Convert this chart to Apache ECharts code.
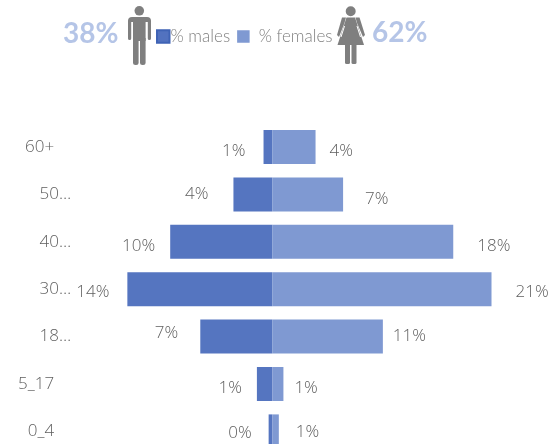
<!DOCTYPE html>
<html><head><meta charset="utf-8">
<style>html,body{margin:0;padding:0;background:#fff;overflow:hidden}#c{width:548px;height:444px}</style>
<script src="https://cdn.jsdelivr.net/npm/echarts@6/dist/echarts.min.js"></script>
</head><body><div id="c"></div>
<script>
const categories = ['0_4','5_17','18…','30…','40…','50…','60+'];
const males = [-0.35,-1.5,-7.05,-14.2,-10,-3.8,-0.85];
const females = [0.65,1.1,10.85,21.5,17.75,6.95,4.25];
const maleLabels = ['0%','1%','7%','14%','10%','4%','1%'];
const femaleLabels = ['1%','1%','11%','21%','18%','7%','4%'];
const maleTotal = '38%';
const femaleTotal = '62%';
const maleName = '% males';
const femaleName = '% females';

const maleOffsets = [[-17,2],[-15,4],[-22,-3],[-18,3],[-15,4],[-25,0],[-18,4]];
const femaleOffsets = [[17,1],[11,4],[10,0],[24,3],[24,4],[22,5],[14,4]];
const FONT = 'Lato';
const NUMFONT = 'Open Sans';
const TXT = '#5f5f5f';
const GREY = '#7f7f7f';
const chart = echarts.init(document.getElementById('c'), null, {renderer:'canvas'});
const g = {fill:GREY};
const icon = [
  // man
  {type:'circle',shape:{cx:139.3,cy:10.8,r:4.8},style:g},
  {type:'rect',shape:{x:133,y:17,width:12.6,height:24,r:[3,3,0,0]},style:g},
  {type:'rect',shape:{x:128,y:17,width:8,height:5,r:[4,0,0,0]},style:g},
  {type:'rect',shape:{x:143,y:17,width:8,height:5,r:[0,4,0,0]},style:g},
  {type:'rect',shape:{x:128,y:20,width:3.2,height:20,r:1.6},style:g},
  {type:'rect',shape:{x:147.8,y:20,width:3.2,height:20,r:1.6},style:g},
  {type:'rect',shape:{x:133,y:38,width:5.6,height:27,r:[0,0,2.5,2.5]},style:g},
  {type:'rect',shape:{x:140,y:38,width:5.6,height:27,r:[0,0,2.5,2.5]},style:g},
  // woman
  {type:'circle',shape:{cx:350.7,cy:11.2,r:5},style:g},
  {type:'polygon',shape:{points:[[346.5,17.5],[355,17.5],[364,45],[337.5,45]]},style:g},
  {type:'polygon',shape:{points:[[346,17.5],[342,17.5],[337,35],[339,37],[344.5,23]]},style:g},
  {type:'polygon',shape:{points:[[355.5,17.5],[359.5,17.5],[365,35],[363,37],[357,23]]},style:g},
  {type:'line',shape:{x1:344.5,y1:26,x2:341,y2:37},style:{stroke:'#fff',lineWidth:1}},
  {type:'line',shape:{x1:357,y1:26,x2:360.5,y2:37},style:{stroke:'#fff',lineWidth:1}},
  {type:'rect',shape:{x:345,y:44,width:5,height:20,r:[0,0,1.5,1.5]},style:g},
  {type:'rect',shape:{x:351.5,y:44,width:5,height:20,r:[0,0,1.5,1.5]},style:g}
];
chart.setOption({
  animation:false,
  backgroundColor:'#fff',
  legend:{
    left:151, top:23, itemWidth:12.5, itemHeight:12.5, itemGap:7, icon:'rect',
    selectedMode:false,
    textStyle:{fontFamily:FONT,fontWeight:300,fontSize:17,color:'#808080'},
    data:[
      {name:maleName,itemStyle:{color:'#5272bf',borderColor:'#3f63b5',borderWidth:2},textStyle:{padding:[0,0,0,-4]}},
      {name:femaleName,itemStyle:{color:'#7f99d2',borderWidth:0},textStyle:{padding:[0,0,0,4]}}
    ]
  },
  grid:{left:17.2,width:510,top:123.3,height:331.8,outerBoundsMode:'none'},
  xAxis:{type:'value',min:-25,max:25,show:false},
  yAxis:{type:'category',data:categories,position:'left',
    axisLine:{show:false},axisTick:{show:false},
    axisLabel:{show:true,inside:false,margin:-54,align:'right',
      formatter:v=>v.endsWith('…')?'{t|'+v+'}':'{p|'+v+'}',
      rich:{
        t:{fontFamily:NUMFONT,fontWeight:300,fontSize:17,color:TXT},
        p:{fontFamily:NUMFONT,fontWeight:300,fontSize:17,color:TXT,padding:[0,17,0,0]}
      }}
  },
  series:[
    {name:maleName,type:'bar',stack:'p',barWidth:34,
     itemStyle:{color:'#5575c0',borderWidth:0},
     data:males.map((v,i)=>({value:v,label:{show:true,position:'left',distance:0,offset:maleOffsets[i],
        formatter:maleLabels[i],fontFamily:NUMFONT,fontWeight:300,fontSize:17,color:TXT}}))},
    {name:femaleName,type:'bar',stack:'p',barWidth:34,
     itemStyle:{color:'#7f99d2',borderWidth:0},
     data:females.map((v,i)=>({value:v,label:{show:true,position:'right',distance:0,offset:femaleOffsets[i],
        formatter:femaleLabels[i],fontFamily:NUMFONT,fontWeight:300,fontSize:17,color:TXT}}))}
  ],
  graphic:[
    {type:'text',x:63,y:20,style:{text:maleTotal,fontFamily:FONT,fontWeight:'bold',fontSize:28,fill:'#b5c5e7'}},
    {type:'text',x:372,y:19,style:{text:femaleTotal,fontFamily:FONT,fontWeight:'bold',fontSize:28,fill:'#b5c5e7'}}
  ].concat(icon)
});
</script></body></html>
